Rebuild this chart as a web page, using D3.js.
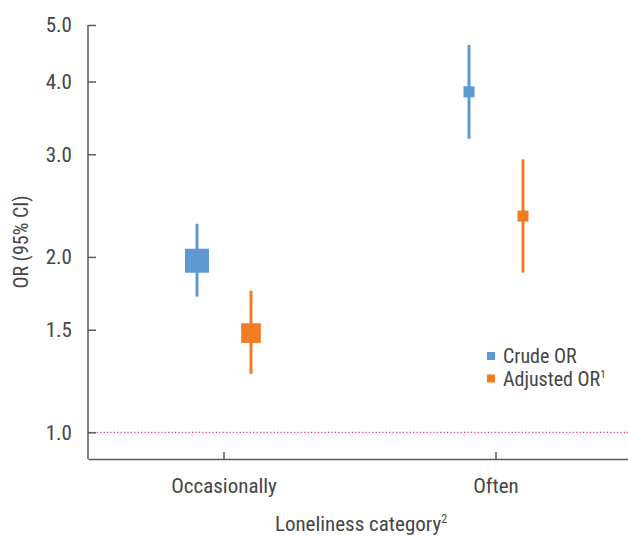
<!DOCTYPE html>
<html>
<head>
<meta charset="utf-8">
<script src="https://cdn.jsdelivr.net/npm/d3@7"></script>
<style>
  body { margin: 0; background: #fff; }
  text { font-family: "Roboto Condensed", "Liberation Sans Narrow", "DejaVu Sans Condensed", sans-serif; fill: #454545; }
</style>
</head>
<body>
<script>
// Chart data
const categories = ["Occasionally", "Often"];
const seriesNames = ["Crude OR", "Adjusted OR"];
const crudeOR = [1.97, 3.84];
const crudeLow = [1.71, 3.19];
const crudeHigh = [2.28, 4.62];
const adjustedOR = [1.48, 2.35];
const adjustedLow = [1.26, 1.88];
const adjustedHigh = [1.75, 2.94];
// relative marker weight (drawn as square size)
const crudeWeight = [2.2, 1.0];
const adjustedWeight = [1.8, 1.0];
const yTicks = [1.0, 1.5, 2.0, 3.0, 4.0, 5.0];

const width = 628, height = 536;
const colors = ["#5f99d3", "#f37b21"];

var svg = d3.select("body").append("svg")
    .attr("width", width)
    .attr("height", height);

// Scales
var x = d3.scaleBand().domain(categories).range([88, 632]);
var xSub = d3.scalePoint().domain(seriesNames).range([-27, 27]);
var y = d3.scaleLog().domain([0.9, 5]).range([459, 25]);
var size = d3.scaleLinear().domain([1, 2.2]).range([11, 24]);

// Build rows from the arrays
var rows = [];
categories.forEach((c, i) => {
    rows.push({ cat: c, series: seriesNames[0], or: crudeOR[i], lo: crudeLow[i], hi: crudeHigh[i], w: crudeWeight[i], color: colors[0] });
    rows.push({ cat: c, series: seriesNames[1], or: adjustedOR[i], lo: adjustedLow[i], hi: adjustedHigh[i], w: adjustedWeight[i], color: colors[1] });
});

// Reference line at OR = 1
svg.append("line")
    .attr("x1", 90).attr("x2", 632)
    .attr("y1", y(1)).attr("y2", y(1))
    .attr("stroke", "#f0305a")
    .attr("stroke-width", 1.2)
    .attr("stroke-dasharray", "1.2,2.2");

// Y axis
var yAxis = svg.append("g")
    .attr("transform", "translate(88,0)")
    .call(d3.axisLeft(y).tickValues(yTicks).tickFormat(d3.format(".1f"))
        .tickSizeInner(-8).tickSizeOuter(0).tickPadding(16));

// X axis
var xAxis = svg.append("g")
    .attr("transform", "translate(0,459)")
    .call(d3.axisBottom(x).tickSizeInner(-7).tickSizeOuter(0).tickPadding(19));

[yAxis, xAxis].forEach(g => {
    g.select(".domain").attr("stroke", "#595959").attr("stroke-width", 1.5);
    g.selectAll(".tick line").attr("stroke", "#595959").attr("stroke-width", 1.5);
    g.selectAll(".tick text")
        .style("font-family", "'Roboto Condensed', 'Liberation Sans Narrow', 'DejaVu Sans Condensed', sans-serif")
        .style("font-size", "21px")
        .attr("fill", "#454545");
});
// y domain stretches from top tick to x axis
yAxis.select(".domain").attr("d", "M0," + y(5) + "V459");

// Whiskers
svg.append("g").selectAll("line")
    .data(rows)
    .join("line")
    .attr("x1", d => x(d.cat) + x.bandwidth() / 2 + xSub(d.series))
    .attr("x2", d => x(d.cat) + x.bandwidth() / 2 + xSub(d.series))
    .attr("y1", d => y(d.lo))
    .attr("y2", d => y(d.hi))
    .attr("stroke", d => d.color)
    .attr("stroke-width", 3);

// Point estimates
svg.append("g").selectAll("rect")
    .data(rows)
    .join("rect")
    .attr("x", d => x(d.cat) + x.bandwidth() / 2 + xSub(d.series) - size(d.w) / 2)
    .attr("y", d => y(d.or) - size(d.w) / 2)
    .attr("width", d => size(d.w))
    .attr("height", d => size(d.w))
    .attr("fill", d => d.color);

// Axis titles
svg.append("text")
    .attr("transform", "translate(28,242) rotate(-90)")
    .attr("text-anchor", "middle")
    .style("font-size", "20px")
    .text("OR (95% CI)");

var xt = svg.append("text")
    .attr("x", 361).attr("y", 531)
    .attr("text-anchor", "middle")
    .style("font-size", "21px")
    .text("Loneliness category");
xt.append("tspan").attr("dy", -8).style("font-size", "12px").text("2");

// Legend
var legend = svg.append("g").selectAll("g")
    .data(seriesNames)
    .join("g")
    .attr("transform", (d, i) => "translate(487," + (352 + i * 22.5) + ")");
legend.append("rect")
    .attr("width", 8).attr("height", 8)
    .attr("fill", (d, i) => colors[i]);
var lt = legend.append("text")
    .attr("x", 16).attr("y", 4)
    .attr("dy", "0.35em")
    .style("font-size", "20px")
    .text(d => d);
lt.filter((d, i) => i === 1).append("tspan")
    .attr("dy", -8).style("font-size", "11px").text("1");
</script>
</body>
</html>
